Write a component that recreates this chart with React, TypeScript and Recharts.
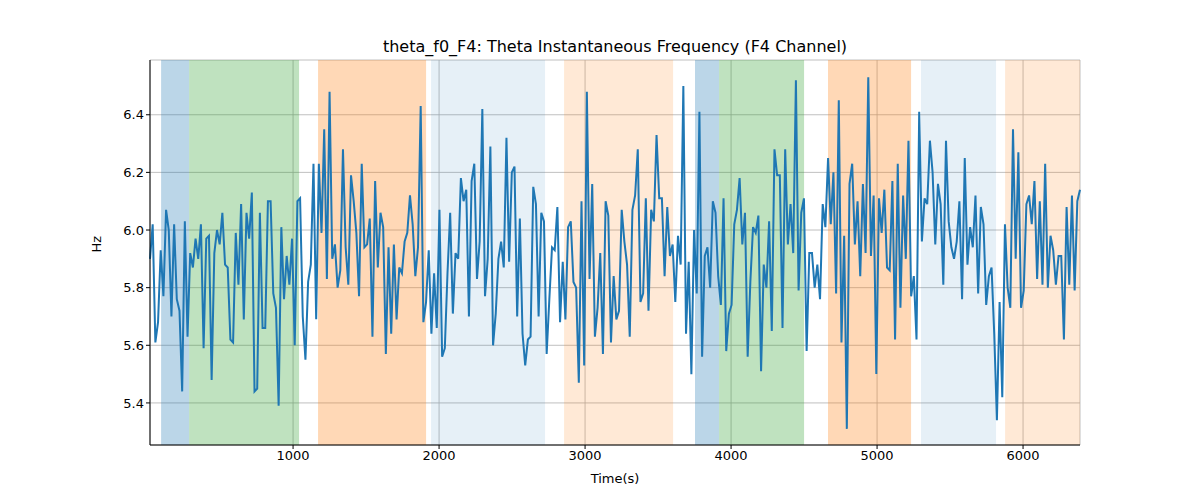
import { ComposedChart, Line, XAxis, YAxis, CartesianGrid, ReferenceArea } from 'recharts';

// theta instantaneous frequency left to right
const seg1 = [5.90, 6.02, 5.61, 5.68, 5.93, 5.77, 6.07, 6.00, 5.70, 6.02, 5.76, 5.72, 5.44, 6.03, 5.63, 5.92, 5.87, 5.97, 5.90, 6.02, 5.59, 5.97, 5.98, 5.48, 5.92, 6.00, 5.95, 6.06, 5.88, 5.87, 5.62, 5.61, 5.99, 5.81, 6.09, 5.69, 6.06, 5.97, 6.13, 5.44, 5.45, 6.06, 5.66, 5.66, 6.10, 6.10, 5.78, 5.73, 5.39, 6.01, 5.76];
const seg2 = [5.91, 5.81, 5.97, 5.60, 6.10, 6.11, 5.70, 5.55, 5.82, 5.88, 6.23, 5.69, 6.23, 5.99, 6.35, 5.83, 6.48, 5.90, 5.95, 5.80, 5.86, 6.28, 5.94, 5.81, 6.19, 6.10, 5.99, 5.77, 6.23, 5.94, 5.95, 6.04, 5.63, 6.17, 5.87, 6.06, 6.01, 5.57, 5.94, 5.64, 5.95, 5.69, 5.87, 5.85, 5.96, 5.99, 6.12, 6.02, 5.84, 5.94, 6.43, 5.68, 5.75, 5.93, 5.64, 5.85, 5.66, 6.07, 5.56, 5.59, 5.85, 6.06];
const seg3 = [5.71, 5.92, 5.90, 6.18, 6.10, 6.14, 5.70, 6.17, 6.23, 5.83, 5.96, 6.42, 5.77, 5.90, 6.29, 5.60, 5.71, 5.90, 5.96, 5.87, 6.32, 5.89, 6.20, 6.22, 5.70, 6.04, 5.64, 5.53, 5.62, 5.63, 6.15, 6.09, 5.70, 6.06, 6.03, 5.57, 5.76, 5.94, 5.93, 6.08, 5.68, 5.89, 5.69, 6.01, 6.03, 5.82, 5.80, 5.47, 6.10, 5.53, 6.48, 5.83, 6.16, 5.63, 5.73, 5.92, 5.57, 6.10, 6.05, 5.61, 5.84];
const seg4 = [5.69, 5.72, 6.07, 5.96, 5.88, 5.63, 6.07, 6.12, 6.28, 5.75, 5.78, 6.11, 5.72, 6.07, 6.03, 6.33, 6.11, 6.11, 5.84, 6.08, 5.91, 5.95, 5.75, 5.98, 5.88, 6.50, 5.64, 5.89, 5.50, 6.00, 5.78, 6.41, 5.56, 5.91, 5.94, 5.80, 6.10, 6.06, 5.84, 5.74, 6.11, 5.58, 5.71, 5.74, 6.02, 6.07, 6.18, 5.95, 6.06, 5.56, 5.82, 6.01, 5.99, 6.05, 5.51, 5.88, 5.80, 6.03, 5.65, 6.28];
const seg5 = [6.19, 6.19, 5.66, 6.28, 5.95, 6.09, 5.92, 6.52, 5.79, 6.06, 6.11, 5.58, 5.92, 5.92, 5.80, 5.88, 5.76, 6.09, 6.01, 6.25, 6.02, 6.20, 5.78, 6.45, 5.61, 5.98, 5.31, 6.16, 6.23, 5.95, 6.10, 5.84, 6.16, 5.92, 6.53, 5.91, 6.12, 5.50, 6.11, 5.99, 6.14, 5.87, 5.86, 6.17, 5.62, 6.23, 5.73, 6.12, 5.90, 6.31, 5.77];
const seg6 = [5.84, 5.62, 6.41, 5.96, 6.11, 6.09, 6.31, 6.20, 5.95, 6.16, 6.09, 5.81, 6.31, 6.03, 5.94, 5.90, 5.96, 6.10, 5.76, 6.25, 5.88, 6.01, 5.94, 6.12, 5.78, 6.08, 6.02, 5.74, 5.84, 5.87, 5.64, 5.34, 5.75, 5.42, 6.02, 5.80, 5.73, 6.35, 5.90, 6.27, 5.73, 5.79, 6.09, 6.12, 6.02, 6.17, 5.83, 6.10, 5.81, 6.23, 5.80, 5.98, 5.93, 5.81, 5.91, 5.91, 5.62, 6.08, 5.81, 6.12, 5.79, 6.10, 6.14];
const freq = [...seg1, ...seg2, ...seg3, ...seg4, ...seg5, ...seg6];

const tStart = 20;
const tEnd = 6390;

// state segments: [start, end, colour, opacity]
const bands: [number, number, string, number][] = [
  [96, 288, '#1f77b4', 0.3],
  [288, 1041, '#2ca02c', 0.3],
  [1171, 1911, '#ff7f0e', 0.3],
  [1945, 2726, '#1f77b4', 0.11],
  [2856, 3603, '#ff7f0e', 0.17],
  [3753, 3918, '#1f77b4', 0.3],
  [3918, 4500, '#2ca02c', 0.3],
  [4664, 5233, '#ff7f0e', 0.3],
  [5301, 5815, '#1f77b4', 0.11],
  [5877, 6390, '#ff7f0e', 0.17],
];

const xTicks = [1000, 2000, 3000, 4000, 5000, 6000];
const yTicks = [5.4, 5.6, 5.8, 6.0, 6.2, 6.4];

const data = freq.map((v, i) => ({
  t: tStart + (i * (tEnd - tStart)) / (freq.length - 1),
  hz: v,
}));

const tickStyle = { fill: '#000', fontSize: 13 };

export default function App() {
  return (
    <div style={{ position: 'absolute', left: 0, top: 0, fontFamily: 'DejaVu Sans' }}>
      <div style={{ position: 'absolute', top: 37, left: 150, width: 930, textAlign: 'center', fontSize: 16 }}>
        theta_f0_F4: Theta Instantaneous Frequency (F4 Channel)
      </div>
      <ComposedChart width={1200} height={500} data={data} margin={{ top: 60, right: 120, bottom: 15, left: 80 }}>
        {bands.map(([a, b, c, o], i) => (
          <ReferenceArea key={i} x1={a} x2={b} fill={c} fillOpacity={o} stroke="none" ifOverflow="visible" />
        ))}
        <CartesianGrid stroke="#b0b0b0" strokeWidth={0.8} />
        <XAxis
          dataKey="t"
          type="number"
          domain={[tStart, tEnd]}
          ticks={xTicks}
          tick={tickStyle}
          tickSize={4}
          stroke="#000"
          height={40}
          label={{ value: 'Time(s)', position: 'insideBottom', offset: 2, fill: '#000', fontSize: 13 }}
        />
        <XAxis xAxisId="top" orientation="top" type="number" domain={[tStart, tEnd]} tick={false} tickLine={false} stroke="#000" height={0} />
        <YAxis
          type="number"
          domain={[5.254, 6.59]}
          ticks={yTicks}
          tickFormatter={(v) => v.toFixed(1)}
          tick={tickStyle}
          tickSize={4}
          stroke="#000"
          width={70}
          label={{ value: 'Hz', angle: -90, position: 'insideLeft', offset: 16, fill: '#000', fontSize: 13 }}
        />
        <YAxis yAxisId="right" orientation="right" domain={[0, 1]} tick={false} tickLine={false} stroke="#000" width={0} />
        <Line dataKey="hz" stroke="#1f77b4" strokeWidth={2} dot={false} isAnimationActive={false} />
      </ComposedChart>
    </div>
  );
}
